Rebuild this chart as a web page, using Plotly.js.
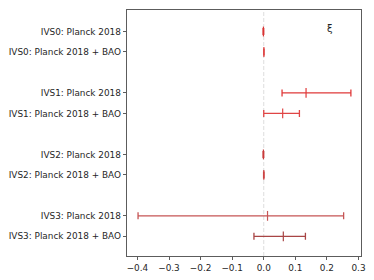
<!DOCTYPE html>
<html>
<head>
<meta charset="utf-8">
<script src="https://cdn.plot.ly/plotly-3.0.1.min.js"></script>
<style>html,body{margin:0;padding:0;background:#fff;}#chart{width:374px;height:280px;}</style>
</head>
<body>
<div id="chart"></div>
<script>
const models = ["IVS0", "IVS1", "IVS2", "IVS3"];
const datasets = ["Planck 2018", "Planck 2018 + BAO"];
const labels = [
  "IVS0: Planck 2018", "IVS0: Planck 2018 + BAO",
  "IVS1: Planck 2018", "IVS1: Planck 2018 + BAO",
  "IVS2: Planck 2018", "IVS2: Planck 2018 + BAO",
  "IVS3: Planck 2018", "IVS3: Planck 2018 + BAO"
];
const xiCenter = [-0.001, 0.0005, 0.134, 0.060, -0.001, 0.0002, 0.012, 0.062];
const xiLower  = [-0.002, 0.0000, 0.058, 0.000, -0.002, -0.0005, -0.398, -0.031];
const xiUpper  = [0.000, 0.0010, 0.276, 0.113, 0.000, 0.0009, 0.253, 0.132];
const xTicks = [-0.4, -0.3, -0.2, -0.1, 0.0, 0.1, 0.2, 0.3];
const paramLabel = "ξ";

const colors = ["#d93333", "#df4444", "#e03a3a", "#e04545", "#c83a3a", "#cc4444", "#c65555", "#a84545"];

// row positions: two rows per model, one blank row between models
const pos = labels.map((_, i) => Math.floor(i / 2) * 3 + (i % 2));

const traces = labels.map((lab, i) => ({
  type: "scatter",
  mode: "markers",
  x: [xiCenter[i]],
  y: [pos[i]],
  marker: {symbol: "line-ns", size: 7, color: colors[i], line: {width: 1.2, color: colors[i]}},
  error_x: {
    type: "data", symmetric: false,
    array: [xiUpper[i] - xiCenter[i]],
    arrayminus: [xiCenter[i] - xiLower[i]],
    color: colors[i], thickness: 1.3, width: 3.5
  },
  showlegend: false,
  hoverinfo: "skip"
}));

const layout = {
  width: 374, height: 280,
  margin: {l: 127, r: 13, t: 10, b: 24},
  paper_bgcolor: "#fff", plot_bgcolor: "#fff",
  font: {family: "DejaVu Sans", size: 8.9, color: "#262626"},
  xaxis: {
    range: [-0.433, 0.308],
    tickvals: xTicks,
    ticktext: xTicks.map(v => (v < 0 ? "\u2212" : "") + Math.abs(v).toFixed(1)),
    ticks: "outside", ticklen: 3.5, tickwidth: 0.8, tickcolor: "#333",
    showgrid: false, zeroline: false,
    showline: true, linecolor: "#333", linewidth: 0.8, mirror: true
  },
  yaxis: {
    range: [10.96, -1.05],
    tickvals: pos,
    ticktext: labels,
    ticks: "outside", ticklen: 3.5, tickwidth: 0.8, tickcolor: "#333",
    showgrid: false, zeroline: false,
    showline: true, linecolor: "#333", linewidth: 0.8, mirror: true
  },
  shapes: [{
    type: "line", xref: "x", yref: "paper", x0: 0, x1: 0, y0: 0, y1: 1,
    line: {color: "#d4d4d4", width: 0.8, dash: "4px,2px"}, layer: "below"
  }],
  annotations: [{
    text: paramLabel, xref: "paper", yref: "paper", x: 0.869, y: 0.925,
    xanchor: "center", yanchor: "middle",
    showarrow: false, font: {family: "DejaVu Sans", size: 10, color: "#222"}
  }]
};

Plotly.newPlot("chart", traces, layout, {staticPlot: true, displayModeBar: false});
</script>
</body>
</html>
